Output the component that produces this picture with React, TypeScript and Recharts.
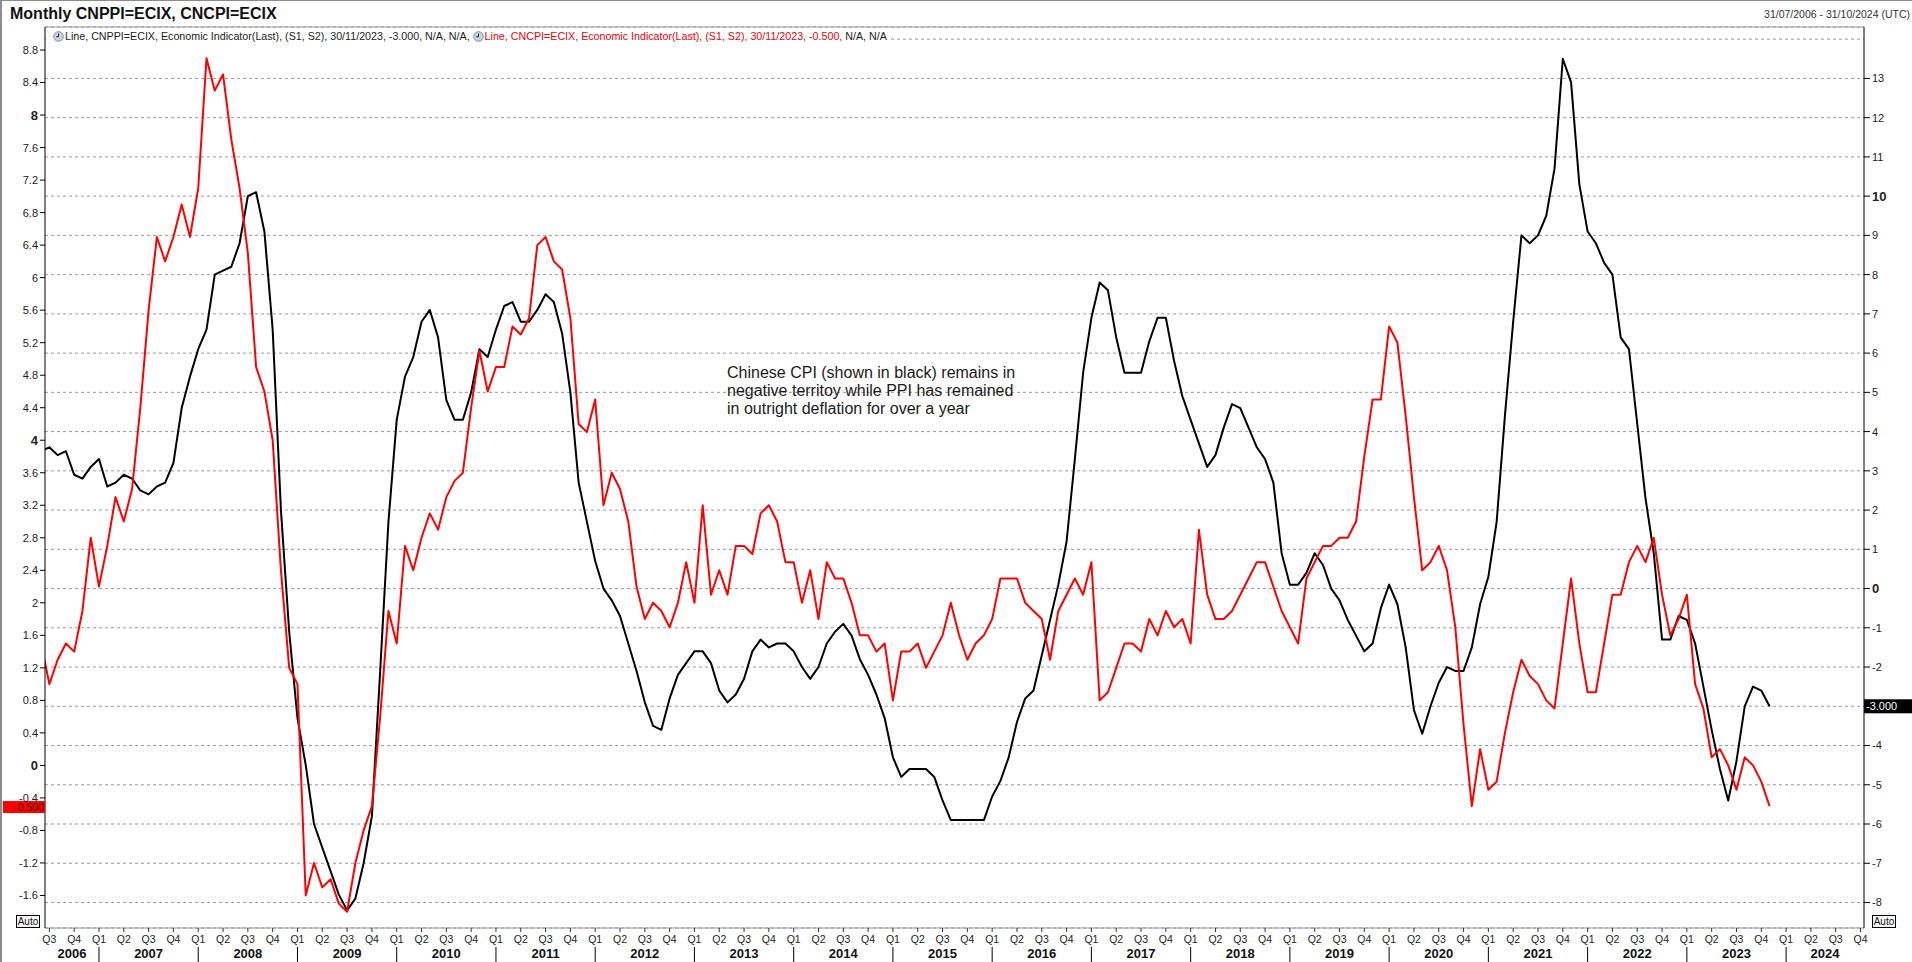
import React from 'react'
import { LineChart, Line, XAxis, YAxis, CartesianGrid, ReferenceDot } from 'recharts'

const W = 1912
const H = 962
const FONT = "Arial, 'Liberation Sans', sans-serif"

// monthly readings, Jun 2006 .. Nov 2023, plotted on the 1st of each month
const FIRST_YEAR = 2006
const FIRST_MONTH = 6

// CNCPI=ECIX (red, left scale)
const CNCPI = [
  1.5, 1.0, 1.3, 1.5, 1.4, 1.9, 2.8,
  2.2, 2.7, 3.3, 3.0, 3.4, 4.4, 5.6, 6.5, 6.2, 6.5, 6.9, 6.5,
  7.1, 8.7, 8.3, 8.5, 7.7, 7.1, 6.3, 4.9, 4.6, 4.0, 2.4, 1.2,
  1.0, -1.6, -1.2, -1.5, -1.4, -1.7, -1.8, -1.2, -0.8, -0.5, 0.6, 1.9,
  1.5, 2.7, 2.4, 2.8, 3.1, 2.9, 3.3, 3.5, 3.6, 4.4, 5.1, 4.6,
  4.9, 4.9, 5.4, 5.3, 5.5, 6.4, 6.5, 6.2, 6.1, 5.5, 4.2, 4.1,
  4.5, 3.2, 3.6, 3.4, 3.0, 2.2, 1.8, 2.0, 1.9, 1.7, 2.0, 2.5,
  2.0, 3.2, 2.1, 2.4, 2.1, 2.7, 2.7, 2.6, 3.1, 3.2, 3.0, 2.5,
  2.5, 2.0, 2.4, 1.8, 2.5, 2.3, 2.3, 2.0, 1.6, 1.6, 1.4, 1.5,
  0.8, 1.4, 1.4, 1.5, 1.2, 1.4, 1.6, 2.0, 1.6, 1.3, 1.5, 1.6,
  1.8, 2.3, 2.3, 2.3, 2.0, 1.9, 1.8, 1.3, 1.9, 2.1, 2.3, 2.1,
  2.5, 0.8, 0.9, 1.2, 1.5, 1.5, 1.4, 1.8, 1.6, 1.9, 1.7, 1.8,
  1.5, 2.9, 2.1, 1.8, 1.8, 1.9, 2.1, 2.3, 2.5, 2.5, 2.2, 1.9,
  1.7, 1.5, 2.3, 2.5, 2.7, 2.7, 2.8, 2.8, 3.0, 3.8, 4.5, 4.5,
  5.4, 5.2, 4.3, 3.3, 2.4, 2.5, 2.7, 2.4, 1.7, 0.5, -0.5, 0.2,
  -0.3, -0.2, 0.4, 0.9, 1.3, 1.1, 1.0, 0.8, 0.7, 1.5, 2.3, 1.5,
  0.9, 0.9, 1.5, 2.1, 2.1, 2.5, 2.7, 2.5, 2.8, 2.1, 1.6, 1.8,
  2.1, 1.0, 0.7, 0.1, 0.2, 0.0, -0.3, 0.1, 0.0, -0.2, -0.5,
]

// CNPPI=ECIX (black, right scale)
const CNPPI = [
  3.5, 3.6, 3.4, 3.5, 2.9, 2.8, 3.1,
  3.3, 2.6, 2.7, 2.9, 2.8, 2.5, 2.4, 2.6, 2.7, 3.2, 4.6, 5.4,
  6.1, 6.6, 8.0, 8.1, 8.2, 8.8, 10.0, 10.1, 9.1, 6.6, 2.0, -1.1,
  -3.3, -4.5, -6.0, -6.6, -7.2, -7.8, -8.2, -7.9, -7.0, -5.8, -2.1, 1.7,
  4.3, 5.4, 5.9, 6.8, 7.1, 6.4, 4.8, 4.3, 4.3, 5.0, 6.1, 5.9,
  6.6, 7.2, 7.3, 6.8, 6.8, 7.1, 7.5, 7.3, 6.5, 5.0, 2.7, 1.7,
  0.7, 0.0, -0.3, -0.7, -1.4, -2.1, -2.9, -3.5, -3.6, -2.8, -2.2, -1.9,
  -1.6, -1.6, -1.9, -2.6, -2.9, -2.7, -2.3, -1.6, -1.3, -1.5, -1.4, -1.4,
  -1.6, -2.0, -2.3, -2.0, -1.4, -1.1, -0.9, -1.2, -1.8, -2.2, -2.7, -3.3,
  -4.3, -4.8, -4.6, -4.6, -4.6, -4.8, -5.4, -5.9, -5.9, -5.9, -5.9, -5.9,
  -5.3, -4.9, -4.3, -3.4, -2.8, -2.6, -1.7, -0.8, 0.1, 1.2, 3.3, 5.5,
  6.9, 7.8, 7.6, 6.4, 5.5, 5.5, 5.5, 6.3, 6.9, 6.9, 5.8, 4.9,
  4.3, 3.7, 3.1, 3.4, 4.1, 4.7, 4.6, 4.1, 3.6, 3.3, 2.7, 0.9,
  0.1, 0.1, 0.4, 0.9, 0.6, 0.0, -0.3, -0.8, -1.2, -1.6, -1.4, -0.5,
  0.1, -0.4, -1.5, -3.1, -3.7, -3.0, -2.4, -2.0, -2.1, -2.1, -1.5, -0.4,
  0.3, 1.7, 4.4, 6.8, 9.0, 8.8, 9.0, 9.5, 10.7, 13.5, 12.9, 10.3,
  9.1, 8.8, 8.3, 8.0, 6.4, 6.1, 4.2, 2.3, 0.9, -1.3, -1.3, -0.7,
  -0.8, -1.4, -2.5, -3.6, -4.6, -5.4, -4.4, -3.0, -2.5, -2.6, -3.0,
]

const YEARS = [2006, 2007, 2008, 2009, 2010, 2011, 2012, 2013, 2014, 2015,
  2016, 2017, 2018, 2019, 2020, 2021, 2022, 2023, 2024]
const QUARTERS = ['Q1', 'Q2', 'Q3', 'Q4']
const LEFT_TICKS = [-1.6, -1.2, -0.8, -0.4, 0, 0.4, 0.8, 1.2, 1.6, 2, 2.4, 2.8, 3.2,
  3.6, 4, 4.4, 4.8, 5.2, 5.6, 6, 6.4, 6.8, 7.2, 7.6, 8, 8.4, 8.8]
const RIGHT_TICKS = [-8, -7, -6, -5, -4, -3, -2, -1, 0, 1, 2, 3, 4, 5, 6, 7, 8, 9,
  10, 11, 12, 13, 14]
const LEFT_BOLD = [0, 4, 8]
const RIGHT_BOLD = [0, 10]

// visible window 31/07/2006 - 31/10/2024, in fractional years
const X_MIN = 2006.456
const X_MAX = 2024.785
const LEFT_DOMAIN: [number, number] = [-2, 9.083]
const RIGHT_DOMAIN: [number, number] = [-8.65, 14.31]

const rows = CNCPI.map((cpi, i) => ({
  t: FIRST_YEAR + (FIRST_MONTH - 1 + i) / 12,
  cpi,
  ppi: CNPPI[i],
}))
const last = rows[rows.length - 1]

const quarterTicks: number[] = []
YEARS.forEach((y) => {
  QUARTERS.forEach((_, q) => {
    const t = y + q / 4
    if (t >= X_MIN && t <= X_MAX) quarterTicks.push(t)
  })
})
// year captions sit in the middle of the visible part of each year
const yearTicks = YEARS.map((y) => (Math.max(y, X_MIN) + Math.min(y + 1, X_MAX)) / 2)

const QuarterTick = (props: any) => {
  const { x, y, payload } = props
  const v = payload.value
  const q = Math.round((v - Math.floor(v + 1e-6)) * 4) % 4
  return (
    <g>
      <line x1={x} x2={x} y1={y} y2={y + 4} stroke='#333' />
      <text x={x} y={y + 15} textAnchor='middle' fontSize={10.5} fill='#222' fontFamily={FONT}>
        {QUARTERS[q]}
      </text>
      {q === 0 && <line x1={x} x2={x} y1={y + 19} y2={y + 34} stroke='#000' />}
    </g>
  )
}

const YearTick = (props: any) => {
  const { x, y, payload } = props
  return (
    <text x={x} y={y + 12} textAnchor='middle' fontSize={13} fontWeight={700} fill='#111' fontFamily={FONT}>
      {Math.floor(payload.value)}
    </text>
  )
}

const LeftTick = (props: any) => {
  const { x, y, payload } = props
  const v = payload.value
  const bold = LEFT_BOLD.includes(v)
  return (
    <g>
      <line x1={x - 5} x2={x} y1={y} y2={y} stroke='#000' />
      <text x={x - 7} y={y} dy='0.36em' textAnchor='end' fontSize={bold ? 13 : 11}
        fontWeight={bold ? 700 : 400} fill='#222' fontFamily={FONT}>
        {String(v)}
      </text>
    </g>
  )
}

const RightTick = (props: any) => {
  const { x, y, payload } = props
  const v = payload.value
  // 14 only carries a grid line; -3 sits under the last-value tag
  if (v === 14 || v === last.ppi) return <g />
  const bold = RIGHT_BOLD.includes(v)
  return (
    <g>
      <line x1={x} x2={x + 6} y1={y} y2={y} stroke='#000' />
      <text x={x + 8} y={y} dy='0.36em' textAnchor='start' fontSize={bold ? 13 : 11}
        fontWeight={bold ? 700 : 400} fill='#222' fontFamily={FONT}>
        {String(v)}
      </text>
    </g>
  )
}

const CpiTag = (p: any) => (
  <g>
    <rect x={3} y={p.cy - 5} width={42} height={12} fill='#ff0000' />
    <text x={44} y={p.cy + 1} dy='0.36em' textAnchor='end' fontSize={10.5} fill='#3a0000' fontFamily={FONT}>
      {last.cpi.toFixed(3)}
    </text>
  </g>
)

const PpiTag = (p: any) => (
  <g>
    <rect x={1864} y={p.cy - 7} width={48} height={14} fill='#000' />
    <text x={1866} y={p.cy} dy='0.36em' textAnchor='start' fontSize={11} fill='#fff' fontFamily={FONT}>
      {last.ppi.toFixed(3)}
    </text>
  </g>
)

const Clock = () => (
  <svg width={11} height={11} style={{ marginRight: 1, flex: 'none' }}>
    <circle cx={5.5} cy={5.5} r={4.8} fill='#c9d3e0' stroke='#6b7a90' strokeWidth={0.8} />
    <path d='M5.5 2.5 V5.8 H3.2' stroke='#223' strokeWidth={1} fill='none' />
  </svg>
)

const autoBox: React.CSSProperties = {
  position: 'absolute',
  top: 915,
  width: 22,
  height: 11,
  border: '1px solid #000',
  background: '#fff',
  fontSize: 10,
  lineHeight: '11px',
  textAlign: 'center',
  color: '#111',
}

export default function App() {
  return (
    <div style={{ position: 'absolute', left: 0, top: 0, width: W, height: H, background: '#fff', fontFamily: FONT, overflow: 'hidden' }}>
      <LineChart width={W} height={H} data={rows} margin={{ top: 26, right: 0, bottom: 0, left: 0 }}>
        <CartesianGrid xAxisId='q' yAxisId='right' vertical={false} strokeDasharray='3 3' stroke='#9a9a9a' />
        <XAxis xAxisId='top' orientation='top' type='number' dataKey='t' domain={[X_MIN, X_MAX]} allowDataOverflow
          ticks={quarterTicks} interval={0} height={1} tick={false} tickSize={4}
          axisLine={{ stroke: '#999' }} tickLine={{ stroke: '#999' }} />
        <XAxis xAxisId='q' type='number' dataKey='t' domain={[X_MIN, X_MAX]} allowDataOverflow
          ticks={quarterTicks} interval={0} height={18} tickSize={0} tickMargin={0} tickLine={false}
          axisLine={{ stroke: '#999' }} tick={QuarterTick} />
        <XAxis xAxisId='yr' type='number' dataKey='t' domain={[X_MIN, X_MAX]} allowDataOverflow
          ticks={yearTicks} interval={0} height={16} tickSize={0} tickMargin={0} tickLine={false}
          axisLine={false} tick={YearTick} />
        <YAxis yAxisId='left' type='number' domain={LEFT_DOMAIN} allowDataOverflow ticks={LEFT_TICKS}
          interval={0} width={45} tickSize={0} tickMargin={0} tickLine={false}
          axisLine={{ stroke: '#000' }} tick={LeftTick} />
        <YAxis yAxisId='right' orientation='right' type='number' domain={RIGHT_DOMAIN} allowDataOverflow
          ticks={RIGHT_TICKS} interval={0} width={48} tickSize={0} tickMargin={0} tickLine={false}
          axisLine={{ stroke: '#000' }} tick={RightTick} />
        <Line xAxisId='q' yAxisId='right' type='linear' dataKey='ppi' stroke='#000' strokeWidth={2}
          strokeLinejoin='round' dot={false} activeDot={false} isAnimationActive={false} />
        <Line xAxisId='q' yAxisId='left' type='linear' dataKey='cpi' stroke='#ff0000' strokeWidth={2}
          strokeLinejoin='round' dot={false} activeDot={false} isAnimationActive={false} />
        <ReferenceDot xAxisId='q' yAxisId='left' x={last.t} y={last.cpi} shape={CpiTag} />
        <ReferenceDot xAxisId='q' yAxisId='right' x={last.t} y={last.ppi} shape={PpiTag} />
      </LineChart>

      <div style={{ position: 'absolute', left: 0, top: 0, width: 2, height: H, background: '#8c8c8c' }} />
      <div style={{ position: 'absolute', left: 0, top: 0, width: W, height: 1, background: '#8c8c8c' }} />

      <div style={{ position: 'absolute', left: 10, top: 5, fontSize: 16, fontWeight: 700, lineHeight: '18px', color: '#111', whiteSpace: 'nowrap' }}>
        Monthly CNPPI=ECIX, CNCPI=ECIX
      </div>
      <div style={{ position: 'absolute', right: 2, top: 8, fontSize: 10.5, lineHeight: '12px', color: '#333', whiteSpace: 'nowrap' }}>
        31/07/2006 - 31/10/2024 (UTC)
      </div>

      <div style={{ position: 'absolute', left: 46, top: 30, height: 12, paddingLeft: 7, paddingRight: 3, background: '#fff', display: 'flex', alignItems: 'center', fontSize: 10.7, lineHeight: '12px', whiteSpace: 'pre' }}>
        <Clock />
        <span style={{ color: '#222' }}>Line, CNPPI=ECIX, Economic Indicator(Last), (S1, S2), 30/11/2023, -3.000, N/A, N/A, </span>
        <Clock />
        <span style={{ color: '#e8000a' }}>Line, CNCPI=ECIX, Economic Indicator(Last), (S1, S2), 30/11/2023, -0.500, </span>
        <span style={{ color: '#222' }}>N/A, N/A</span>
      </div>

      <div style={{ position: 'absolute', left: 727, top: 364, fontSize: 16, lineHeight: '18px', color: '#1a1a1a', whiteSpace: 'pre' }}>
        {'Chinese CPI (shown in black) remains in\nnegative territoy while PPI has remained\nin outright deflation for over a year'}
      </div>

      <div style={{ ...autoBox, left: 16 }}>Auto</div>
      <div style={{ ...autoBox, left: 1872 }}>Auto</div>
    </div>
  )
}
